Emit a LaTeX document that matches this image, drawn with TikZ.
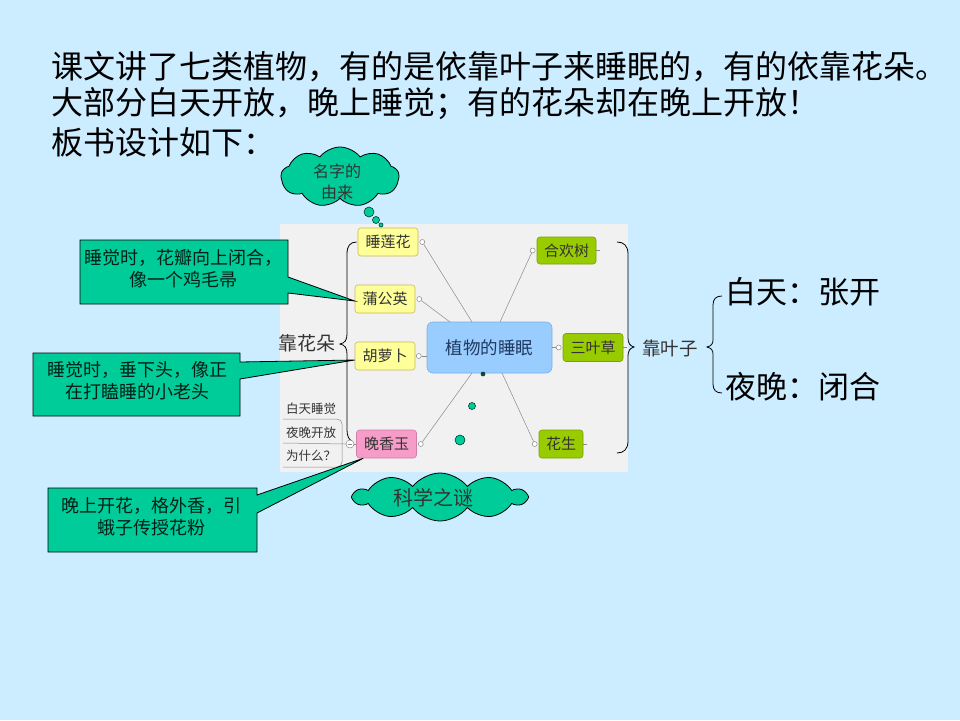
\documentclass[tikz,border=0pt]{standalone}
\usepackage{fontspec}
\setmainfont{Noto Sans CJK SC}
\usetikzlibrary{shapes.symbols}
\definecolor{bgblue}{HTML}{CCECFF}
\definecolor{mapgray}{HTML}{F1F1F1}
\definecolor{teal}{HTML}{00CC99}
\definecolor{ylwfill}{HTML}{FFFF99}
\definecolor{ylwline}{HTML}{C9B85E}
\definecolor{pinkfill}{HTML}{F59CC8}
\definecolor{pinkline}{HTML}{CF7FA8}
\definecolor{grnfill}{HTML}{99CC00}
\definecolor{grnline}{HTML}{78A000}
\definecolor{cenfill}{HTML}{99CCFF}
\definecolor{cenline}{HTML}{7AAEE2}
\definecolor{centext}{HTML}{1F3A60}
\definecolor{linkgray}{HTML}{8A8A8A}
\definecolor{txtgray}{HTML}{333333}
\begin{document}
\begin{tikzpicture}[x=1pt,y=-1pt,
  titletext/.style={anchor=west,inner sep=0,font=\fontsize{32}{37}\selectfont},
  plant/.style={rounded corners=3pt,minimum width=60pt,minimum height=28pt,inner sep=0,
    font=\fontsize{15}{17}\selectfont,text=txtgray,line width=0.6pt},
  yplant/.style={plant,fill=ylwfill,draw=ylwline},
  pplant/.style={plant,fill=pinkfill,draw=pinkline},
  gplant/.style={plant,fill=grnfill,draw=grnline},
  knob/.style={circle,draw=linkgray,fill=white,inner sep=0,minimum size=5pt,line width=0.5pt},
  link/.style={draw=linkgray,line width=0.5pt},
  bracestyle/.style={draw=black,line width=0.8pt},
  callout/.style={fill=teal,draw=black,line width=0.8pt},
  callouttext/.style={align=center,inner sep=0,font=\fontsize{18}{22}\selectfont,text=black!85!teal},
  cloudbox/.style={cloud,cloud ignores aspect,fill=teal,draw=black,line width=0.8pt,inner sep=0,
    cloud puff arc=105},
  cloudtext/.style={align=center,inner sep=0,text=txtgray},
  bubble/.style={circle,fill=teal,draw=black!70!teal,line width=0.6pt,inner sep=0},
  notetext/.style={inner sep=0,font=\fontsize{12.5}{14}\selectfont,text=txtgray},
  bigtext/.style={anchor=west,inner sep=0,font=\fontsize{31}{36}\selectfont}
]
\fill[bgblue] (0,0) rectangle (960,720);
\useasboundingbox (0,0) rectangle (960,720);

% title
\node[titletext] (t1) at (51,67) {课文讲了七类植物，有的是依靠叶子来睡眠的，有的依靠花朵。};
\node[titletext] (t2) at (51,104) {大部分白天开放，晚上睡觉；有的花朵却在晚上开放！};
\node[titletext] (t3) at (51,142) {板书设计如下：};

% mind map area
\fill[mapgray] (280,224) rectangle (628,472);

% center and plants
\node[rounded corners=6pt,fill=cenfill,draw=cenline,line width=0.6pt,minimum width=125pt,minimum height=51pt,
  inner sep=0,font=\fontsize{17.5}{20}\selectfont,text=centext] (cen) at (489.5,347.5) {植物的睡眠};
\node[yplant] (slh) at (388,242) {睡莲花};
\node[yplant] (pgy) at (385,299) {蒲公英};
\node[yplant] (hlb) at (385,356) {胡萝卜};
\node[pplant] (wxy) at (386.5,444) {晚香玉};
\node[gplant,minimum width=59pt,minimum height=27pt] (hhs) at (566.5,250.5) {合欢树};
\node[gplant] (syc) at (593,347.5) {三叶草};
\node[gplant,minimum width=44pt] (hs) at (561,444) {花生};

% knobs
\node[knob] (k1) at ([xshift=4pt]slh.east) {};
\node[knob] (k2) at ([xshift=4pt]pgy.east) {};
\node[knob] (k3) at ([xshift=3.5pt]hlb.east) {};
\node[knob] (k4) at ([xshift=4pt]wxy.east) {};
\node[knob] (k5) at ([xshift=-4pt]hhs.west) {};
\node[knob] (k6) at ([xshift=-4pt]syc.west) {};
\node[knob] (k7) at ([xshift=-4pt]hs.west) {};

\coordinate (c1) at (472,322);
\coordinate (c2) at (450,322);
\coordinate (c4) at (472,373);
\coordinate (c5) at (500,322);
\coordinate (c7) at (502,373);
\draw[link] (k1) -- (c1);
\draw[link] (k2) -- (c2);
\draw[link] (k3) -- (hlb.east -| cen.west);
\draw[link] (k4) -- (c4);
\draw[link] (k5) -- (c5);
\draw[link] (k6) -- (cen.east);
\draw[link] (k7) -- (c7);
% little ticks right of green nodes
\draw[link] (hhs.east) -- ++(4,0);
\draw[link] (syc.east) -- ++(4,0);
\draw[link] (hs.east) -- ++(4,0);

% left brace (靠花朵)
\node[inner sep=0,font=\fontsize{19}{21}\selectfont,text=txtgray,anchor=east] (khd) at (336,343) {靠花朵};
\draw[bracestyle] ([xshift=-1pt]slh.west) .. controls (350,242) and (347,246) .. (347,254)
  -- (347,334) .. controls (347,340) and (345,343) .. (340,344)
  .. controls (345,345) and (347,348) .. (347,354)
  -- (347,430) .. controls (347,436) and (349,440) .. (352,441);

% minus knob and note tree
\node[circle,draw=linkgray,fill=white,inner sep=0,minimum size=8pt,line width=0.5pt] (mk) at (350,444) {};
\draw[linkgray,line width=0.6pt] ([xshift=-2pt]mk.center) -- ([xshift=2pt]mk.center);
\draw[link] (mk.east) -- (wxy.west);
\node[notetext] (n1) at (311,409) {白天睡觉};
\node[notetext] (n2) at (311,433) {夜晚开放};
\node[notetext] (n3) at (311,456) {为什么？};
\draw[link] (283,419) -- (337,419) .. controls (340,419) and (342,421) .. (342,424) -- (342,462)
  .. controls (342,465) and (340,467) .. (337,467) -- (283,467);
\draw[link] (283,443) -- (mk.west);

% right brace (靠叶子)
\draw[bracestyle] (617,242) .. controls (624,242) and (628,246) .. (628,254)
  -- (628,338) .. controls (628,343) and (630,346) .. (634,347)
  .. controls (630,348) and (628,351) .. (628,356)
  -- (628,441) .. controls (628,449) and (624,453) .. (617,453);
\node[inner sep=0,font=\fontsize{18.5}{21}\selectfont,text=txtgray,anchor=west] (kyz) at (642,348) {靠叶子};

% second brace
\draw[bracestyle] (722,296) .. controls (716,296) and (713,299) .. (713,305)
  -- (713,340) .. controls (713,344) and (711,346) .. (707,347)
  .. controls (711,348) and (713,350) .. (713,354)
  -- (713,384) .. controls (713,390) and (716,393) .. (722,393);
\node[bigtext] (bt) at (725,292) {白天：张开};
\node[bigtext] (yw) at (725,387) {夜晚：闭合};

% callouts
\draw[callout] (80,240) -- (288,240) -- (288,277) -- ([yshift=-2pt]pgy.west) -- (288,293) -- (288,304) -- (80,304) -- cycle;
\node[callouttext] (co1) at (183,269) {睡觉时，花瓣向上闭合，\\像一个鸡毛帚};
\draw[callout] (33,353) -- (240,353) -- (240,362) -- ([yshift=-4pt]hlb.west) -- (240,379) -- (240,416) -- (33,416) -- cycle;
\node[callouttext] (co2) at (137,381) {睡觉时，垂下头，像正\\在打瞌睡的小老头};
\draw[callout] (48,488) -- (257,488) -- (257,495) -- ([xshift=7pt]wxy.south west) -- (257,513) -- (257,552) -- (48,552) -- cycle;
\node[callouttext] (co3) at (151,517) {晚上开花，格外香，引\\蛾子传授花粉};

% clouds
\node[cloudbox,cloud puffs=9,minimum width=118pt,minimum height=60pt] (cl1) at (340,177) {};
\node[cloudtext,font=\fontsize{16}{21}\selectfont] (cl1t) at (337,182) {名字的\\由来};
\node[bubble,minimum size=10pt] (b1) at (369,212) {};
\node[bubble,minimum size=7pt] (b2) at (376,220) {};
\node[bubble,minimum size=4pt] (b3) at (381,225) {};

\node[cloudbox,cloud puffs=10,minimum width=172pt,minimum height=48pt] (cl2) at (440,497) {};
\node[cloudtext,font=\fontsize{20}{22}\selectfont] (cl2t) at (433,498) {科学之谜};
\node[bubble,minimum size=10pt] (b4) at (460,440) {};
\node[bubble,minimum size=7pt] (b5) at (472,406) {};
\node[bubble,minimum size=4pt,fill=black!60!teal] (b6) at (483,374) {};
\end{tikzpicture}
\end{document}
